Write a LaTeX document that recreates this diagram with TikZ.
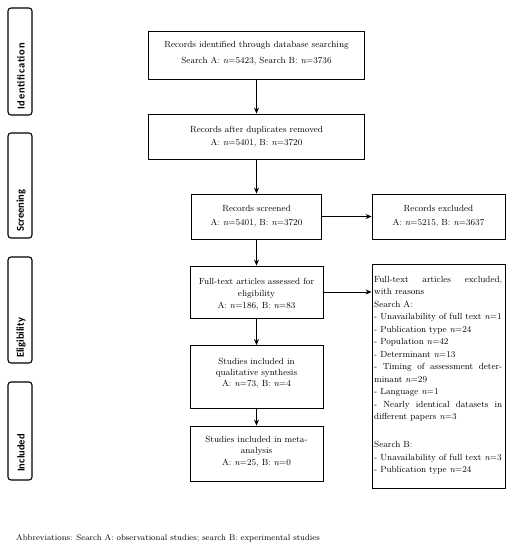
\documentclass[tikz,border=0pt]{standalone}
\usepackage{fontspec}
\newfontfamily\labfont{Carlito}
\usetikzlibrary{arrows.meta}
\tikzset{
  box/.style={draw, line width=0.8pt, inner sep=0pt},
  txt/.style={inner sep=0pt, align=center},
  side/.style={draw, rounded corners=3pt, line width=1.1pt, minimum width=24pt, inner sep=0pt},
  sidetxt/.style={rotate=90, inner sep=0pt, font=\labfont\bfseries\fontsize{10.5}{12}\selectfont},
  arr/.style={line width=0.9pt, -{Stealth[length=6pt,width=5pt]}}
}
\newcommand{\jline}[1]{\makebox[128pt][l]{#1}}
\begin{document}
\begin{tikzpicture}[x=1pt,y=1pt]
\useasboundingbox (0,0) rectangle (515,-550);
% side labels
\node[side, minimum height=107pt] (s1) at (20,-61.5) {};
\node[sidetxt, anchor=west] (l1) at (21,-110) {\addfontfeature{LetterSpace=8}Identification};
\node[side, minimum height=105pt] (s2) at (20,-185.5) {};
\node[sidetxt, anchor=west] (l2) at (21,-232) {Screening};
\node[side, minimum height=106pt] (s3) at (20,-310) {};
\node[sidetxt, anchor=west] (l3) at (21,-358) {Eligibility};
\node[side, minimum height=98pt] (s4) at (20,-431) {};
\node[sidetxt, anchor=west] (l4) at (21,-472) {Included};
% main boxes
\node[box, minimum width=216pt, minimum height=48pt] (b1) at (256.5,-55) {};
\node[txt, font=\fontsize{8.9}{16}\selectfont] (t1) at (256.5,-53.5) {Records identified through database searching\\Search A: \textit{n}=5423, Search B: \textit{n}=3736};
\node[box, minimum width=216pt, minimum height=45pt] (b2) at (256.5,-136.5) {};
\node[txt, font=\fontsize{8.9}{13}\selectfont] (t2) at (256.5,-136.5) {Records after duplicates removed\\A: \textit{n}=5401, B: \textit{n}=3720};
\node[box, minimum width=130pt, minimum height=45pt] (b3) at (256.5,-216.5) {};
\node[txt, font=\fontsize{8.9}{14}\selectfont] (t3) at (256.5,-216) {Records screened\\A: \textit{n}=5401, B: \textit{n}=3720};
\node[box, minimum width=133pt, minimum height=45pt] (ex) at (438.5,-216.5) {};
\node[txt, font=\fontsize{8.9}{14}\selectfont] (t4) at (438.5,-216) {Records excluded\\A: \textit{n}=5215, B: \textit{n}=3637};
\node[box, minimum width=133pt, minimum height=52pt] (b4) at (256.5,-292) {};
\node[txt, font=\fontsize{8.9}{12}\selectfont] (t5) at (256.5,-294) {Full-text articles assessed for\\eligibility\\A: \textit{n}=186, B: \textit{n}=83};
\node[box, minimum width=133pt, minimum height=63pt] (b5) at (256.5,-377) {};
\node[txt, font=\fontsize{8.9}{11}\selectfont] (t6) at (256.5,-373) {Studies included in\\qualitative synthesis\\A: \textit{n}=73, B: \textit{n}=4};
\node[box, minimum width=133pt, minimum height=55pt] (b6) at (256.5,-453.5) {};
\node[txt, font=\fontsize{8.9}{11.5}\selectfont] (t7) at (256.5,-451.5) {Studies included in meta-\\analysis\\A: \textit{n}=25, B: \textit{n}=0};
% right box
\node[box, minimum width=133pt, minimum height=224pt] (rb) at (438.5,-376) {};
\node[inner sep=0pt, anchor=north west] (t8) at (374,-276) {\parbox[t]{128pt}{\fontsize{8.9}{12.5}\selectfont\lineskiplimit=-6pt\raggedright
\jline{Full-text\hfill articles\hfill excluded,}\\with reasons\\Search A:\\- Unavailability of full text \textit{n}=1\\- Publication type \textit{n}=24\\- Population \textit{n}=42\\- Determinant \textit{n}=13\\\jline{-\hfill Timing\hfill of\hfill assessment\hfill deter-}\\minant \textit{n}=29\\- Language \textit{n}=1\\\jline{-\hfill Nearly\hfill identical\hfill datasets\hfill in}\\different papers \textit{n}=3\\\mbox{}\\[3pt]Search B:\\- Unavailability of full text \textit{n}=3\\- Publication type \textit{n}=24}};
% arrows
\draw[arr] (b1.south) -- (b2.north);
\draw[arr] (b2.south) -- (b3.north);
\draw[arr] (b3.south) -- (b4.north);
\draw[arr] (b4.south) -- (b5.north);
\draw[arr] (b5.south) -- (b6.north);
\draw[arr] (b3.east) -- (ex.west);
\draw[arr] (b4.east) -- (b4.east -| rb.west);
% footnote
\node[inner sep=0pt, anchor=west, font=\fontsize{8.3}{10}\selectfont] (ab) at (16,-538) {Abbreviations: Search A: observational studies; search B: experimental studies};
\end{tikzpicture}
\end{document}
